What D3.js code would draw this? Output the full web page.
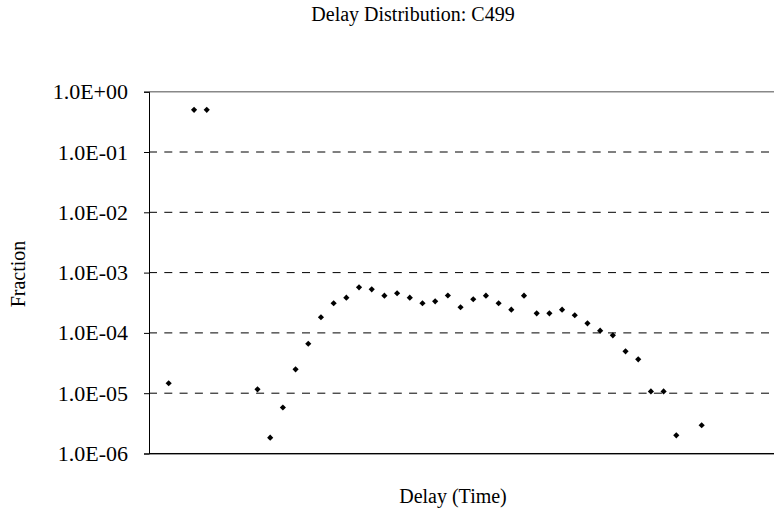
<!DOCTYPE html>
<html>
<head>
<meta charset="utf-8">
<script src="https://cdn.jsdelivr.net/npm/d3@7"></script>
<style>
  body { margin: 0; background: #fff; }
  svg text { font-family: "Liberation Serif", "Times New Roman", serif; fill: #000; }
</style>
</head>
<body>
<div id="chart"></div>
<script>
// delay bins (index) and measured fraction per bin
const delays = [0, 2, 3, 7, 8, 9, 10, 11, 12, 13, 14, 15, 16, 17, 18, 19, 20, 21, 22,
  23, 24, 25, 26, 27, 28, 29, 30, 31, 32, 33, 34, 35, 36, 37, 38, 39, 40, 42];
const fractions = [1.46e-5, 0.5, 0.5, 1.16e-5, 1.83e-6, 5.8e-6, 2.49e-5, 6.6e-5, 1.82e-4,
  3.1e-4, 3.84e-4, 5.7e-4, 5.28e-4, 4.14e-4, 4.54e-4, 3.84e-4, 3.1e-4, 3.34e-4, 4.17e-4,
  2.66e-4, 3.61e-4, 4.14e-4, 3.1e-4, 2.43e-4, 4.14e-4, 2.11e-4, 2.11e-4, 2.43e-4, 1.96e-4,
  1.44e-4, 1.09e-4, 9.1e-5, 4.95e-5, 3.65e-5, 1.07e-5, 1.07e-5, 2.0e-6, 2.94e-6];
const yTickValues = [1, 1e-1, 1e-2, 1e-3, 1e-4, 1e-5, 1e-6];
const yTickLabels = ["1.0E+00", "1.0E-01", "1.0E-02", "1.0E-03", "1.0E-04", "1.0E-05", "1.0E-06"];

const width = 774, height = 512;
const margin = { top: 91.7, left: 149, bottom: 58.5, right: -16 };
const innerW = width - margin.left - margin.right;
const innerH = height - margin.top - margin.bottom;

const svg = d3.select('#chart').append('svg')
  .attr('width', width)
  .attr('height', height);

const x = d3.scaleLinear()
  .domain([-1.55, 48.96])
  .range([0, innerW]);

const y = d3.scaleLog()
  .domain([1e-6, 1])
  .range([innerH, 0]);

const g = svg.append('g')
  .attr('transform', `translate(${margin.left}, ${margin.top})`);

// dashed gridlines
g.selectAll('.grid')
  .data(yTickValues.filter(v => v < 1 && v > 1e-6))
  .enter()
  .append('line')
  .attr('class', 'grid')
  .attr('x1', 0)
  .attr('x2', innerW)
  .attr('y1', d => y(d))
  .attr('y2', d => y(d))
  .attr('stroke', '#000')
  .attr('stroke-width', 1)
  .attr('stroke-dasharray', '8,7.3');

// plot frame: top gray border, bottom axis
g.append('line')
  .attr('x1', 0).attr('x2', innerW)
  .attr('y1', 0).attr('y2', 0)
  .attr('stroke', '#888').attr('stroke-width', 1.5);

g.append('line')
  .attr('x1', 0).attr('x2', innerW)
  .attr('y1', innerH + 1).attr('y2', innerH + 1)
  .attr('stroke', '#999').attr('stroke-width', 1);
g.append('line')
  .attr('x1', 0).attr('x2', innerW)
  .attr('y1', innerH).attr('y2', innerH)
  .attr('stroke', '#000').attr('stroke-width', 1);

// y axis
const yAxis = g.append('g')
  .call(d3.axisLeft(y)
    .tickValues(yTickValues)
    .tickFormat((d, i) => yTickLabels[i])
    .tickSize(5)
    .tickPadding(16));
yAxis.select('.domain').attr('stroke', '#000');
yAxis.selectAll('text')
  .attr('font-size', '22px')
  .attr('font-family', '"Liberation Serif", serif');

// points: square diamonds
const diamond = d3.symbol().type(d3.symbolSquare).size(19);
g.selectAll('.pt')
  .data(delays.map((d, i) => ({ delay: d, frac: fractions[i] })))
  .enter()
  .append('path')
  .attr('class', 'pt')
  .attr('d', diamond)
  .attr('transform', d => `translate(${x(d.delay)}, ${y(d.frac)}) rotate(45)`)
  .attr('fill', '#000');

// titles
svg.append('text')
  .attr('x', 413)
  .attr('y', 21)
  .attr('text-anchor', 'middle')
  .attr('font-size', '20px')
  .text('Delay Distribution: C499');

svg.append('text')
  .attr('x', 453)
  .attr('y', 503)
  .attr('text-anchor', 'middle')
  .attr('font-size', '20px')
  .text('Delay (Time)');

svg.append('text')
  .attr('transform', 'translate(18, 274) rotate(-90)')
  .attr('text-anchor', 'middle')
  .attr('dominant-baseline', 'central')
  .attr('font-size', '20px')
  .text('Fraction');
</script>
</body>
</html>
